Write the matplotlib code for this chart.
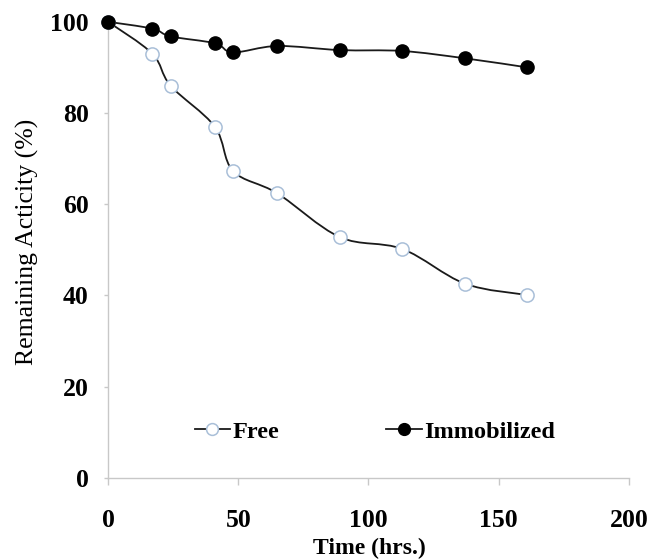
import numpy as np
import matplotlib
matplotlib.use("Agg")
import matplotlib.pyplot as plt
from matplotlib.path import Path
from matplotlib.patches import PathPatch

time_hrs = [0, 17, 24, 41, 48, 65, 89, 113, 137, 161]
free = [100, 93, 86, 77, 67.3, 62.4, 52.8, 50.2, 42.6, 40.1]
immobilized = [100, 98.5, 96.8, 95.3, 93.3, 94.7, 93.8, 93.6, 92.0, 90.0]
xticks = [0, 50, 100, 150, 200]
yticks = [0, 20, 40, 60, 80, 100]

plt.rcParams['font.family'] = ['Liberation Serif', 'DejaVu Serif']

fig = plt.figure(figsize=(6.51, 5.59), dpi=100)
ax = fig.add_axes([0.166, 0.145, 0.800, 0.816])


def smooth_path(x, y, t=1/6):
    x = np.asarray(x, float); y = np.asarray(y, float)
    n = len(x)
    verts = [(x[0], y[0])]
    codes = [Path.MOVETO]
    for i in range(n - 1):
        p0 = np.array([x[max(i - 1, 0)], y[max(i - 1, 0)]])
        p1 = np.array([x[i], y[i]])
        p2 = np.array([x[i + 1], y[i + 1]])
        p3 = np.array([x[min(i + 2, n - 1)], y[min(i + 2, n - 1)]])
        c1 = p1 + (p2 - p0) * t
        c2 = p2 - (p3 - p1) * t
        verts += [tuple(c1), tuple(c2), tuple(p2)]
        codes += [Path.CURVE4] * 3
    return Path(verts, codes)


for ys in (free, immobilized):
    ax.add_patch(PathPatch(smooth_path(time_hrs, ys), facecolor='none',
                           edgecolor='#1a1a1a', lw=1.3, zorder=2))

ax.plot(time_hrs, free, ls='none', marker='o', ms=9.5,
        mfc='white', mec='#a9bfd8', mew=1.1, zorder=3, clip_on=False)
ax.plot(time_hrs, immobilized, ls='none', marker='o', ms=9.5,
        mfc='black', mec='black', zorder=3, clip_on=False)

# legend handles with line
h1, = ax.plot([], [], color='#1a1a1a', lw=1.3, marker='o', ms=8.5,
              mfc='white', mec='#a9bfd8', mew=1.1)
h2, = ax.plot([], [], color='#1a1a1a', lw=1.3, marker='o', ms=8.5,
              mfc='black', mec='black')

ax.set_xlim(0, 200)
ax.set_ylim(0, 100)
ax.set_xticks(xticks)
ax.set_yticks(yticks)
ax.set_xticklabels([str(v) for v in xticks], fontsize=18.5, fontweight='bold')
ax.set_yticklabels([str(v) for v in yticks], fontsize=18.5, fontweight='bold')

for s in ('top', 'right'):
    ax.spines[s].set_visible(False)
for s in ('left', 'bottom'):
    ax.spines[s].set_color('#c8c8c8')
    ax.spines[s].set_linewidth(1.0)

ax.tick_params(axis='x', direction='out', length=5, width=1, color='#c8c8c8', pad=17)
ax.tick_params(axis='y', direction='out', length=3, width=1, color='#c8c8c8', pad=11)

ax.set_ylabel('Remaining Acticity (%)', fontsize=18.5)
ax.yaxis.set_label_coords(-0.132, 0.518)
ax.set_xlabel('Time (hrs.)', fontsize=17, fontweight='bold')
ax.xaxis.set_label_coords(0.501, -0.132)

leg = ax.legend([h1, h2], ['Free', 'Immobilized'], ncol=2, frameon=False,
                loc='center left', bbox_to_anchor=(0.166, 0.101),
                handlelength=1.45, handletextpad=0.12, columnspacing=4.4,
                borderaxespad=0, borderpad=0,
                prop={'size': 17.5, 'weight': 'bold'})

fig.savefig('out.png', dpi=100)
